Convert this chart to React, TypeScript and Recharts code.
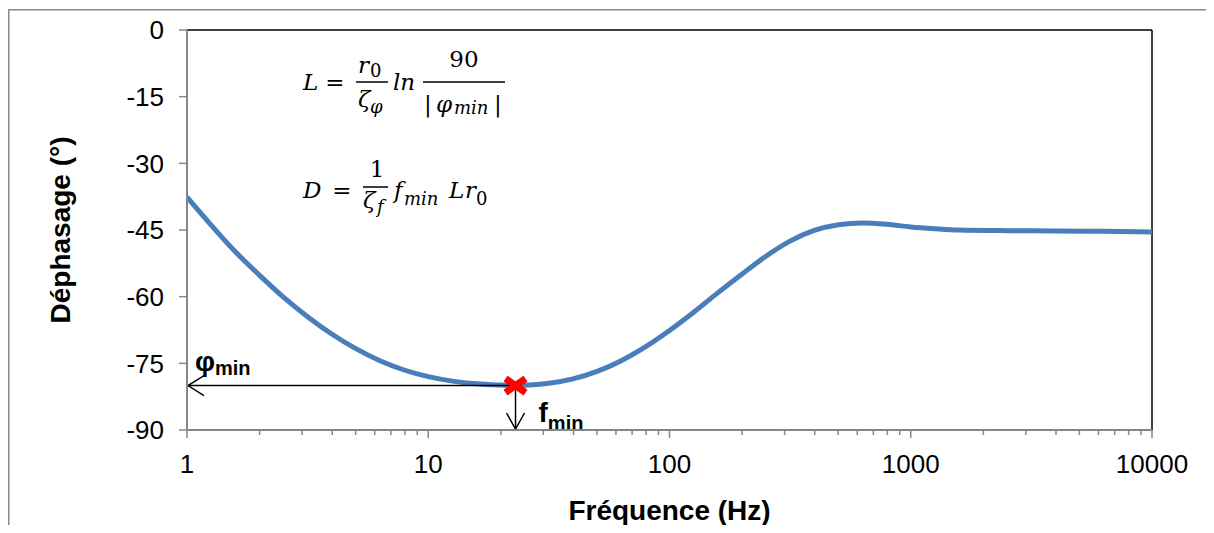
import React from "react";
import { ComposedChart, Line, Scatter, XAxis, YAxis, ReferenceLine } from "recharts";

// frequency (Hz) and phase (deg)
const freq = [
  1, 1.26, 1.58, 2, 2.51, 3.16, 3.98, 5.01, 6.31, 7.94, 10, 12.6, 15.8, 20, 22.6,
  25.1, 31.6, 39.8, 50.1, 63.1, 79.4, 100, 126, 158, 200, 251, 316, 398, 501, 631, 794,
  1000, 1259, 1585, 2512, 3981, 6310, 10000,
];
const phase = [
  -37.6, -43.9, -49.8, -55.2, -60.1, -64.5, -68.4, -71.7, -74.4, -76.5, -78.0, -79.0, -79.6, -79.9, -80.0,
  -79.95, -79.5, -78.5, -76.8, -74.4, -71.3, -67.6, -63.5, -59.2, -54.9, -50.9, -47.5, -45.1, -43.8, -43.4, -43.7,
  -44.3, -44.7, -45.0, -45.15, -45.2, -45.3, -45.45,
];

const majorTicks = [1, 10, 100, 1000, 10000];
const minorTicks = [
  2, 3, 4, 5, 6, 7, 8, 9,
  20, 30, 40, 50, 60, 70, 80, 90,
  200, 300, 400, 500, 600, 700, 800, 900,
  2000, 3000, 4000, 5000, 6000, 7000, 8000, 9000,
];
const yTicks = [0, -15, -30, -45, -60, -75, -90];

const fMin = 23;
const phiMin = -80;

const GRAY = "#868686";
const BLUE = "#4A7EBB";
const SANS = "'Liberation Sans', Arial, sans-serif";
const MATH = "'DejaVu Serif', 'Liberation Serif', serif";

const curve = freq.map((f, i) => ({ f, p: phase[i] }));
const minPoint = [{ f: fMin, p: phiMin }];
const allTicks = [...majorTicks, ...minorTicks].sort((a, b) => a - b);

function XTick({ x, y, payload }: any) {
  const major = majorTicks.includes(payload.value);
  return (
    <g>
      <line x1={x} x2={x} y1={y} y2={y + (major ? 8 : 5)} stroke={GRAY} strokeWidth={1.5} />
      {major && (
        <text x={x} y={y + 43} textAnchor="middle" fontSize={26} fill="#000" fontFamily={SANS}>
          {payload.value}
        </text>
      )}
    </g>
  );
}

// red cross on the minimum
function MinMarker({ cx, cy }: any) {
  return (
    <g stroke="#FF0000" strokeWidth={7}>
      <line x1={cx - 10} y1={cy - 7} x2={cx + 10} y2={cy + 7} />
      <line x1={cx - 10} y1={cy + 7} x2={cx + 10} y2={cy - 7} />
    </g>
  );
}

function PhiArrow({ x1, y1, x2 }: any) {
  const left = Math.min(x1, x2);
  const right = Math.max(x1, x2);
  return (
    <g>
      <line x1={left} y1={y1} x2={right} y2={y1} stroke="#000" strokeWidth={1.5} />
      <polyline
        points={`${left + 17},${y1 - 10} ${left + 1},${y1} ${left + 17},${y1 + 10}`}
        fill="none"
        stroke="#000"
        strokeWidth={1.5}
      />
      <text x={left + 8} y={y1 - 15} fontFamily={SANS} fontWeight="bold" fontSize={28} fill="#000">
        φ<tspan fontSize={20} dy={4}>min</tspan>
      </text>
    </g>
  );
}

function FreqArrow({ x1, y1, y2 }: any) {
  const top = Math.min(y1, y2);
  const bottom = Math.max(y1, y2);
  return (
    <g>
      <line x1={x1} y1={top} x2={x1} y2={bottom} stroke="#000" strokeWidth={1.5} />
      <polyline
        points={`${x1 - 9},${bottom - 17} ${x1},${bottom - 1} ${x1 + 9},${bottom - 17}`}
        fill="none"
        stroke="#000"
        strokeWidth={1.5}
      />
      <text x={x1 + 23} y={bottom - 8} fontFamily={SANS} fontWeight="bold" fontSize={28} fill="#000">
        f<tspan fontSize={20} dy={8}>min</tspan>
      </text>
    </g>
  );
}

function YTitle({ viewBox }: any) {
  const cx = viewBox.x + 13;
  const cy = viewBox.y + viewBox.height / 2;
  return (
    <text
      x={cx}
      y={cy}
      transform={`rotate(-90 ${cx} ${cy})`}
      textAnchor="middle"
      dominantBaseline="central"
      fontFamily={SANS}
      fontWeight="bold"
      fontSize={28}
      fill="#000"
    >
      Déphasage (°)
    </text>
  );
}

function XTitle({ viewBox }: any) {
  return (
    <text
      x={viewBox.x + viewBox.width / 2}
      y={viewBox.y + 90}
      textAnchor="middle"
      fontFamily={SANS}
      fontWeight="bold"
      fontSize={28}
      fill="#000"
    >
      Fréquence (Hz)
    </text>
  );
}

// the two formulas, in page coordinates
function Formulas() {
  const t = { fontFamily: MATH, fontSize: 23, fill: "#000" } as const;
  const it = { ...t, fontStyle: "italic" } as const;
  const sub = { ...it, fontSize: 18 } as const;
  const num = { ...t, fontSize: 18 } as const;
  return (
    <g>
      {/* L = r0/ζφ ln 90/|φmin| */}
      <text x={303} y={90} {...it}>L</text>
      <text x={335} y={90} textAnchor="middle" {...t}>=</text>
      <text x={358} y={73} {...it}>r</text>
      <text x={370} y={77} {...num}>0</text>
      <line x1={356} x2={388} y1={82} y2={82} stroke="#000" strokeWidth={1.5} />
      <text x={358} y={107} {...it}>ζ</text>
      <text x={370} y={113} {...sub}>φ</text>
      <text x={393} y={90} {...it}>ln</text>
      <text x={464} y={67} textAnchor="middle" {...t}>90</text>
      <line x1={423} x2={505} y1={82} y2={82} stroke="#000" strokeWidth={1.5} />
      <text x={424} y={112} {...t}>|</text>
      <text x={436} y={112} {...it}>φ</text>
      <text x={454} y={114} {...sub}>min</text>
      <text x={494} y={112} {...t}>|</text>

      {/* D = 1/ζf fmin L r0 */}
      <text x={303} y={198} {...it}>D</text>
      <text x={342} y={198} textAnchor="middle" {...t}>=</text>
      <text x={377} y={177} textAnchor="middle" {...t}>1</text>
      <line x1={363} x2={388} y1={187} y2={187} stroke="#000" strokeWidth={1.5} />
      <text x={363} y={208} {...it}>ζ</text>
      <text x={377} y={213} {...sub}>f</text>
      <text x={394} y={198} {...it}>f</text>
      <text x={404} y={205} {...sub}>min</text>
      <text x={449} y={198} {...it}>L</text>
      <text x={465} y={198} {...it}>r</text>
      <text x={476} y={205} {...num}>0</text>
    </g>
  );
}

export default function App() {
  return (
    <div style={{ position: "relative", width: 1198, height: 517 }}>
      <ComposedChart
        width={1198}
        height={517}
        margin={{ top: 22, right: 54, bottom: 35, left: 39 }}
        style={{ fontFamily: SANS }}
      >
        <XAxis
          dataKey="f"
          type="number"
          scale="log"
          domain={[1, 10000]}
          ticks={allTicks}
          interval={0}
          height={60}
          tickSize={0}
          tickMargin={0}
          tickLine={false}
          tick={<XTick />}
          axisLine={{ stroke: GRAY, strokeWidth: 2 }}
          allowDataOverflow
          label={{ content: <XTitle /> }}
        />
        <YAxis
          type="number"
          domain={[-90, 0]}
          ticks={yTicks}
          interval={0}
          width={140}
          tickSize={8}
          tickMargin={15}
          tick={{ fontSize: 26, fill: "#000", fontFamily: SANS }}
          tickLine={{ stroke: GRAY, strokeWidth: 1.5 }}
          axisLine={{ stroke: GRAY, strokeWidth: 2 }}
          label={{ content: <YTitle /> }}
        />
        {/* black frame on top and right of the plot area */}
        <ReferenceLine y={0} stroke="#000" strokeWidth={1.5} />
        <ReferenceLine x={10000} stroke="#000" strokeWidth={1.5} />
        <Line
          data={curve}
          dataKey="p"
          type="monotone"
          stroke={BLUE}
          strokeWidth={5}
          dot={false}
          isAnimationActive={false}
        />
        <ReferenceLine
          segment={[{ x: 1, y: phiMin }, { x: fMin, y: phiMin }]}
          shape={(props: any) => <PhiArrow {...props} />}
        />
        <ReferenceLine
          segment={[{ x: fMin, y: phiMin }, { x: fMin, y: -90 }]}
          shape={(props: any) => <FreqArrow {...props} />}
        />
        <Scatter
          data={minPoint}
          dataKey="p"
          shape={(props: any) => <MinMarker {...props} />}
          isAnimationActive={false}
        />
      </ComposedChart>
      <svg
        width={1198}
        height={517}
        style={{ position: "absolute", left: 0, top: 0, overflow: "visible", pointerEvents: "none" }}
      >
        <g transform="translate(-8,-8)">
          <line x1={8} y1={9.75} x2={1214} y2={9.75} stroke="#8a8a8a" strokeWidth={1.5} />
          <line x1={8.75} y1={9} x2={8.75} y2={533} stroke="#8a8a8a" strokeWidth={1.5} />
          <Formulas />
        </g>
      </svg>
    </div>
  );
}
